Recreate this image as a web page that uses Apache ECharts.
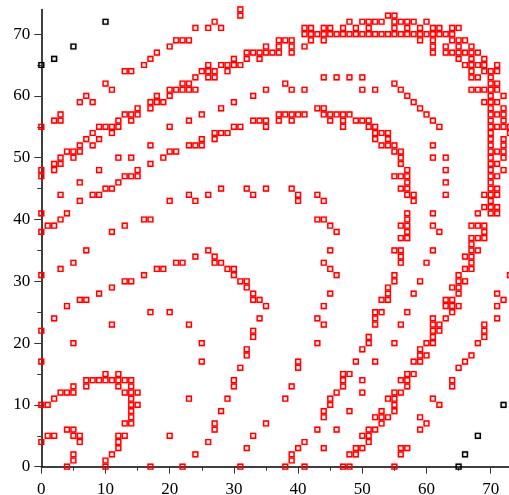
<!DOCTYPE html>
<html><head><meta charset="utf-8">
<style>html,body{margin:0;padding:0;background:#fff;overflow:hidden}#c{width:509px;height:495px}</style>
<script src="https://cdn.jsdelivr.net/npm/echarts@6/dist/echarts.min.js"></script>
</head><body><div id="c"></div>
<script>
const majorTicks = [0,10,20,30,40,50,60,70];
const minorTicks = [5,15,25,35,45,55,65];
const blackPoints = [[10,72],[5,68],[2,66],[0,65],[72,10],[68,5],[66,2],[65,0]];
// each row: [y, x values of the red squares on that row]
const redRows = [
[74,[31]],
[73,[31,54,55]],
[72,[27,48,50,51,52,53,55,56,57,58,60]],
[71,[24,26,28,41,42,44,45,47,49,51,55,57,59,61,62,64,65]],
[70,[41,42,43,44,45,46,47,48,49,50,51,52,53,54,55,56,57,58,59,60,61,62,63,64]],
[69,[21,22,23,37,38,39,42,44,59,61,64,65,66]],
[68,[20,35,37,39,41,61,63,65,67]],
[67,[18,32,33,34,35,36,37,39,61,63,64,65,66,67,68]],
[66,[17,30,32,34,65,67,69]],
[65,[16,26,28,29,30,31,66,67,68,69,71]],
[64,[13,14,25,26,27,29,67,69,70,71]],
[63,[24,26,27,44,46,48,50,67,68,70]],
[62,[10,22,23,38,55,70,71]],
[61,[11,20,21,22,23,24,35,39,41,50,52,56,67,68,69,70,71]],
[60,[7,18,20,33,57,70,72]],
[59,[6,8,17,18,19,30,58,69,70,71]],
[58,[15,17,28,43,44,59,70,72]],
[57,[3,13,14,15,25,37,38,39,40,41,44,45,46,47,48,60,70,71,72]],
[56,[2,3,12,14,23,33,34,35,37,39,45,47,49,50,51,61,70,72]],
[55,[0,9,10,11,12,20,30,31,35,47,51,52,62,70,71,72,73]],
[54,[8,11,27,28,29,52,53,54,70,73]],
[53,[7,9,25,27,52,54,70,72]],
[52,[6,8,17,23,24,25,53,54,55,61,70,72]],
[51,[4,5,6,20,21,55,56,70,71,72]],
[50,[3,5,12,14,19,56,61,63,70,72]],
[49,[2,3,17,56,70,71]],
[48,[0,2,9,15,57,63,70,72]],
[47,[0,13,14,15,55,56,57,70,71]],
[46,[6,12,57,63,70]],
[45,[10,11,28,32,35,39,56,57,70,71]],
[44,[3,8,9,23,26,33,40,43,57,58,63,69,70,71]],
[43,[6,20,24,40,44,58,70]],
[42,[69,70,71]],
[41,[0,4,57,61,68,70,71]],
[40,[3,16,17,43,44,57]],
[39,[1,2,13,45,56,57,61,67,68,69]],
[38,[0,11,46,57,62,69]],
[37,[56,57,67,68,69]],
[36,[67]],
[35,[7,26,45,55,56,61,67,68]],
[34,[24,27,56,66,67]],
[33,[5,21,22,27,28,44,56,60,67]],
[32,[3,18,19,29,30,45,66,67]],
[31,[0,16,30,46,55,65,73]],
[30,[13,14,31,32,55,59,65,66]],
[29,[11,32,54,64,65]],
[28,[9,33,45,54,58,65,71]],
[27,[6,7,33,34,53,54,63,64,72]],
[26,[4,35,44,63,64,65,71]],
[25,[17,20,52,53,57,64]],
[24,[2,34,43,52,61,63,71]],
[23,[11,23,44,52,56,61,62,69]],
[22,[0,33,61,62,69]],
[21,[33,51,61,69]],
[20,[5,25,43,51,55,60,61,68]],
[19,[32,50,59]],
[18,[32,59,60,67]],
[17,[0,25,40,49,52,58,59,66]],
[16,[31,40,65]],
[15,[10,12,47,48,57,58]],
[14,[7,8,9,10,11,12,13,14,30,47,50,56,57,64]],
[13,[5,7,12,14,30,39,47,57,64]],
[12,[3,4,5,13,14,15,46,50,55,56]],
[11,[2,14,23,29,38,45,54,55,61]],
[10,[0,1,14,15,45,55,62]],
[9,[14,28,44,48,53,55]],
[8,[14,44,52,53,54,59]],
[7,[13,14,27,35,53,60]],
[6,[4,5,27,43,46,51,52,59]],
[5,[1,2,5,6,12,13,20,33,50,51]],
[4,[0,6,12,26,41,51]],
[3,[12,32,40,44,49,50,56,57]],
[2,[5,11,24,39,48,49,56]],
[1,[5,10,39]],
[0,[4,10,17,22,31,38,41,47,48,55]]
];
const redPoints = [];
redRows.forEach(([y, xs]) => xs.forEach(x => redPoints.push([x, y])));

const font = {color:'#000', fontFamily:'"Liberation Serif", serif', fontSize:17};
const lineStyle = {color:'#000', width:1.5};
function axis(kind, max, isMajor) {
  const ticks = isMajor ? majorTicks : minorTicks;
  return {
    type:'value', min:0, max:max, position:kind==='x'?'bottom':'left',
    splitLine:{show:false},
    axisLine:{show:isMajor, onZero:false, lineStyle:lineStyle},
    axisTick:{show:true, customValues:ticks, length:isMajor?7:4, lineStyle:{color:'#333', width:1}},
    axisLabel:isMajor ? Object.assign({show:true, customValues:majorTicks, margin:kind==='x'?14:11}, font) : {show:false}
  };
}
const chart = echarts.init(document.getElementById('c'), null, {renderer:'canvas'});
function scatter(data, color) {
  return {type:'scatter', data:data, xAxisIndex:0, yAxisIndex:0, symbol:'rect', symbolSize:4.8, clip:false,
    silent:true, itemStyle:{color:'rgba(255,255,255,0)', borderColor:color, borderWidth:1.4, opacity:1, shadowBlur:1.5, shadowColor:color==='#000000'?'rgba(0,0,0,0.4)':'rgba(255,0,0,0.4)'}};
}
chart.setOption({
  animation:false,
  backgroundColor:'#fff',
  grid:{left:41.3, top:9.4, width:467.7, height:457.3, containLabel:false, outerBoundsMode:'none'},
  xAxis:[axis('x',72.85,true), axis('x',72.85,false)],
  yAxis:[axis('y',74,true), axis('y',74,false)],
  series:[scatter(redPoints,'#ff0000'), scatter(blackPoints,'#000000')]
});
</script></body></html>
